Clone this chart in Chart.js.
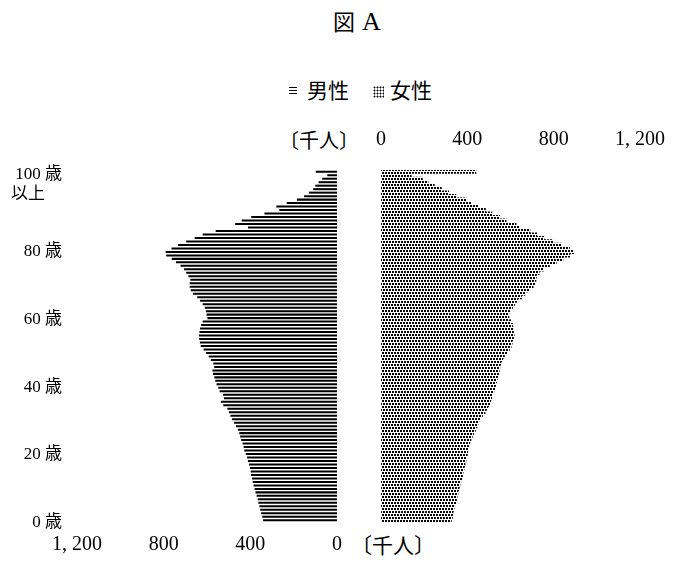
<!DOCTYPE html>
<html lang="ja">
<head>
<meta charset="utf-8">
<title>図A</title>
<script src="https://cdn.jsdelivr.net/npm/chart.js@4.4.1/dist/chart.umd.min.js"></script>
<style>
    html, body { margin: 0; padding: 0; background: #fff; }
    #page { position: relative; width: 676px; height: 564px; overflow: hidden; color: #000;
            font-family: "Noto Sans CJK JP", sans-serif; }
    .txt { position: absolute; white-space: nowrap; line-height: 1; }
    #title { left: 333px; top: 9px; font-size: 22px; }
    #title .latin { font-family: "Liberation Serif", serif; font-size: 26px; margin-left: 7px; }
    #legend { left: 289px; top: 79px; font-size: 21px; }
    .swatch-lines { display: inline-block; width: 8px; height: 8px; margin-right: 10px; vertical-align: 3px;
                    background: repeating-linear-gradient(#000 0 1.5px, transparent 1.5px 3px); }
    .swatch-dots { display: inline-block; width: 11px; height: 12px; margin: 0 6px 0 24px; vertical-align: 0px;
                   background-image: radial-gradient(circle, #000 42%, transparent 52%); background-size: 3px 3px; }
    #unit-top { left: 279px; top: 130px; font-size: 20px; }
    #unit-bottom { left: 351px; top: 534px; font-size: 21px; }
    #male-box { position: absolute; left: 0; top: 130px; width: 345px; height: 434px; }
    #female-box { position: absolute; left: 358px; top: 130px; width: 325px; height: 434px; }
</style>
</head>
<body>
<div id="page">
    <div class="txt" id="title">図<span class="latin">A</span></div>
    <div class="txt" id="legend"><span class="swatch-lines"></span>男性<span class="swatch-dots"></span>女性</div>
    <div class="txt" id="unit-top">〔千人〕</div>
    <div class="txt" id="unit-bottom">〔千人〕</div>
    <div id="male-box"><canvas id="male-chart"></canvas></div>
    <div id="female-box"><canvas id="female-chart"></canvas></div>
</div>
<script>
// 年齢 0〜100（100 は 100歳以上）
const ages = Array.from({ length: 101 }, (_, i) => i);

// 男性 人口（千人）, 0歳から順に
const maleValues = [
    341, 345, 350, 354, 358, 363, 366, 371, 376, 380,
    385, 389, 392, 397, 398, 402, 406, 411, 415, 421,
    428, 431, 436, 442, 447, 451, 457, 466, 475, 485,
    492, 499, 506, 525, 536, 522, 526, 542, 548, 556,
    562, 566, 572, 575, 567, 571, 582, 592, 604, 616,
    629, 633, 636, 637, 635, 632, 627, 620, 598, 602,
    605, 610, 620, 632, 645, 665, 675, 680, 680, 677,
    686, 696, 706, 722, 743, 763, 788, 791, 764, 733,
    696, 657, 620, 560, 411, 470, 440, 396, 335, 266,
    280, 232, 185, 152, 130, 110, 100, 85, 68, 45,
    98
];

// 女性 人口（千人）, 0歳から順に
const femaleValues = [
    326, 331, 334, 337, 342, 347, 350, 353, 357, 362,
    366, 370, 375, 378, 381, 386, 390, 394, 397, 400,
    402, 406, 411, 417, 423, 429, 438, 445, 450, 459,
    470, 482, 494, 504, 508, 513, 517, 523, 529, 532,
    536, 540, 545, 548, 551, 556, 564, 572, 583, 595,
    603, 608, 614, 617, 614, 613, 609, 601, 593, 590,
    599, 609, 619, 634, 651, 667, 684, 705, 712, 718,
    720, 733, 752, 780, 812, 843, 875, 893, 873, 836,
    796, 755, 722, 690, 643, 626, 580, 550, 514, 484,
    452, 420, 395, 347, 314, 280, 247, 218, 192, 140,
    440
];

const ageTicks = [0, 20, 40, 60, 80, 100];
const ageTickLabels = ['0 歳', '20 歳', '40 歳', '60 歳', '80 歳', ['100 歳', '以上\u3000']];
const popTicks = [0, 400, 800, 1200];

// 年齢ラベル用の軸の範囲（ラベル位置を元の図に合わせる）
const ageMin = 0.15;
const ageMax = 104.26;

const serifFont = '"Liberation Serif", "Noto Sans CJK JP", serif';

Chart.defaults.font.family = serifFont;
Chart.defaults.color = '#000';

function formatPop(value) {
    return value >= 1000 ? value.toLocaleString('en-US').replace(',', ', ') : String(value);
}

function makeDotPattern() {
    const c = document.createElement('canvas');
    c.width = 6;
    c.height = 6;
    const g = c.getContext('2d');
    g.fillStyle = '#000';
    g.fillRect(0, 0, 2, 2);
    g.fillRect(3, 0, 2, 2);
    g.fillRect(1, 3, 2, 2);
    g.fillRect(4, 3, 2, 2);
    return g.createPattern(c, 'repeat');
}

function popAxis(position, reverse, padding, height) {
    return {
        type: 'linear',
        position: position,
        reverse: reverse,
        min: 0,
        max: 1200,
        bounds: 'data',
        grid: { display: false, drawTicks: false },
        border: { display: false },
        afterBuildTicks: (scale) => {
            scale.ticks = popTicks.map(v => ({ value: v }));
        },
        afterFit: (scale) => { scale.height = height; },
        ticks: {
            padding: padding,
            maxRotation: 0,
            color: '#000',
            font: { family: serifFont, size: 20 },
            callback: (value) => formatPop(value)
        }
    };
}

const maleChart = new Chart(document.getElementById('male-chart'), {
    type: 'bar',
    data: {
        labels: ages,
        datasets: [{
            label: '男性',
            data: maleValues,
            backgroundColor: '#000',
            borderWidth: 0,
            barPercentage: 0.58,
            categoryPercentage: 1
        }]
    },
    options: {
        indexAxis: 'y',
        responsive: true,
        maintainAspectRatio: false,
        animation: false,
        layout: { padding: { top: 40, right: 8, bottom: 0, left: 0 } },
        plugins: { legend: { display: false }, tooltip: { enabled: false } },
        scales: {
            x: popAxis('bottom', true, 11, 42),
            y: { type: 'category', reverse: true, display: false },
            age: {
                type: 'linear',
                axis: 'y',
                position: 'left',
                offset: false,
                min: ageMin,
                max: ageMax,
                bounds: 'data',
                grid: { display: false, drawTicks: false },
                border: { display: false },
                afterBuildTicks: (scale) => {
                    scale.ticks = ageTicks.map(v => ({ value: v }));
                },
                afterFit: (scale) => { scale.width = 77; },
                ticks: {
                    padding: 15,
                    color: '#000',
                    font: { family: serifFont, size: 17 },
                    callback: (value) => ageTickLabels[ageTicks.indexOf(value)]
                }
            }
        }
    }
});

const femaleChart = new Chart(document.getElementById('female-chart'), {
    type: 'bar',
    data: {
        labels: ages,
        datasets: [{
            label: '女性',
            data: femaleValues,
            backgroundColor: makeDotPattern(),
            borderWidth: 0,
            barPercentage: 1,
            categoryPercentage: 1
        }]
    },
    options: {
        indexAxis: 'y',
        responsive: true,
        maintainAspectRatio: false,
        animation: false,
        layout: { padding: { top: 0, right: 0, bottom: 42, left: 0 } },
        plugins: { legend: { display: false }, tooltip: { enabled: false } },
        scales: {
            x: popAxis('top', false, 18, 40),
            y: { type: 'category', reverse: true, display: false }
        }
    }
});
</script>
</body>
</html>
